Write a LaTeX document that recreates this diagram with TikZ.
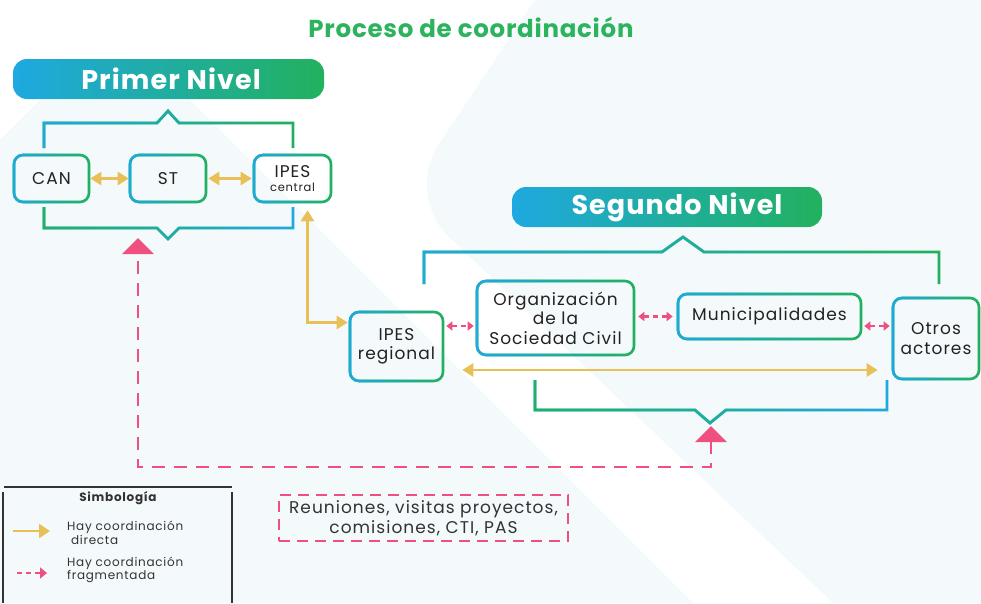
\documentclass[tikz,border=0pt]{standalone}
\usepackage{fontspec}
\setmainfont{Poppins}
\usetikzlibrary{arrows.meta,fadings,calc}
\definecolor{cblue}{HTML}{1EA9E1}
\definecolor{cgreen}{HTML}{22B15E}
\definecolor{ctitle}{HTML}{2CB35E}
\definecolor{cyel}{HTML}{E9BF57}
\definecolor{cpink}{HTML}{F0507F}
\definecolor{ctint}{HTML}{F4FAFB}
\definecolor{ctxt}{HTML}{222222}
\definecolor{cleg}{HTML}{333333}
\newcommand\wide{\addfontfeatures{LetterSpace=6}}
\newcommand\wideb{\addfontfeatures{LetterSpace=4}}
\begin{document}
\begin{tikzpicture}[x=1pt,y=-1pt,
  gbox/.style={rounded corners=9pt, line width=2.6pt, draw=cgreen,
    postaction={draw=cblue, path fading=east}, align=center, inner sep=0pt,
    text=ctxt, font=\fontsize{17}{19.5}\selectfont\wide},
  gline/.style={line width=2.8pt, draw=#1, line join=miter},
  gfade/.style={line width=2.8pt, draw=#1, path fading=east, line join=miter},
  bar/.style={left color=cblue, right color=cgreen, rounded corners=14pt,
    minimum width=311pt, minimum height=40pt, inner sep=0pt},
  bartext/.style={text=white, font=\fontsize{27}{30}\selectfont\bfseries\wideb},
  yarrow/.style={draw=cyel, line width=2.8pt, {Triangle[length=11pt,width=13pt]}-{Triangle[length=11pt,width=13pt]}},
  parrow/.style={draw=cpink, line width=2.6pt, dash pattern=on 5pt off 4pt,
    {Triangle[length=6pt,width=9pt]}-{Triangle[length=6pt,width=9pt]}},
  legtext/.style={text=cleg, align=left, anchor=west, inner sep=0pt,
    font=\fontsize{12}{13.5}\selectfont\wide}
]
\useasboundingbox (0,0) rectangle (981,603);
\fill[white] (0,0) rectangle (981,603);
% faint background bands
\fill[ctint] (0,140) -- (40,100) -- (190,100) -- (693,603) -- (0,603) -- cycle;
\fill[ctint] (535,0) [rounded corners=60pt] -- (405,195) [sharp corners] -- (833,603) -- (981,603) -- (981,0) -- cycle;

% title
\node[text=ctitle, font=\fontsize{24.5}{27}\selectfont\bfseries\addfontfeatures{LetterSpace=3}] (title) at (471,27) {Proceso de coordinación};

% bars
\node[bar] (bar1) at (168.5,79) {};
\node[bartext] (bar1t) at (171,79) {Primer Nivel};
\node[bar, minimum width=310pt] (bar2) at (667,207) {};
\node[bartext] (bar2t) at (677,207) {Segundo Nivel};

% brackets
\draw[gline=cgreen] (44,148) -- (44,123) -- (157,123) -- (168,111) -- (179,123) -- (293,123) -- (293,148);
\draw[gfade=cblue] (44,148) -- (44,123) -- (157,123) -- (168,111) -- (179,123) -- (293,123) -- (293,148);
\draw[gline=cblue] (44,207) -- (44,228) -- (157,228) -- (168,239) -- (179,228) -- (293,228) -- (293,207);
\draw[gfade=cgreen] (44,207) -- (44,228) -- (157,228) -- (168,239) -- (179,228) -- (293,228) -- (293,207);
\draw[gline=cgreen] (424,284) -- (424,252) -- (662,252) -- (683,237) -- (704,252) -- (939,252) -- (939,284);
\draw[gfade=cblue] (424,284) -- (424,252) -- (662,252) -- (683,237) -- (704,252) -- (939,252) -- (939,284);
\draw[gline=cblue] (535,380) -- (535,410) -- (695,410) -- (710,423) -- (726,410) -- (887,410) -- (887,380);
\draw[gfade=cgreen] (535,380) -- (535,410) -- (695,410) -- (710,423) -- (726,410) -- (887,410) -- (887,380);

% level 1 boxes
\node[gbox, minimum width=75pt, minimum height=47pt] (can) at (51.5,178.5) {CAN};
\node[gbox, minimum width=76pt, minimum height=47pt] (st) at (168,178.5) {ST};
\node[gbox, minimum width=77pt, minimum height=47pt] (ipesc) at (292.5,178.5)
  {IPES\\[-6pt]{\fontsize{11.5}{13}\selectfont central}};

% level 2 boxes
\node[gbox, minimum width=93pt, minimum height=69pt] (ipesr) at (396.5,346.5) {IPES\\regional};
\node[gbox, minimum width=157pt, minimum height=74pt] (org) at (555.5,318) {Organización\\de la\\Sociedad Civil};
\node[gbox, minimum width=183pt, minimum height=45pt] (mun) at (769.5,316.5) {Municipalidades};
\node[gbox, minimum width=86pt, minimum height=81pt] (otros) at (936,338.5) {Otros\\actores};

% yellow arrows
\draw[yarrow] (can.east) -- (st.west);
\draw[yarrow, shorten <=1pt, shorten >=1pt] (st.east) -- (ipesc.west);
\draw[yarrow] ([xshift=15pt,yshift=-7pt]ipesc.south) |- ([xshift=-1pt,yshift=24pt]ipesr.west);
\draw[yarrow] ([xshift=18pt,yshift=-23.5pt]ipesr.east) -- ([xshift=-14pt,yshift=-23.5pt]ipesr.east -| otros.west);

% pink dashed double arrows
\draw[parrow] ([xshift=2pt,yshift=20.5pt]ipesr.east) -- ([xshift=-2pt,yshift=20.5pt]ipesr.east -| org.west);
\draw[parrow] ([xshift=3pt]org.east |- mun.west) -- ([xshift=-4pt]mun.west);
\draw[parrow] ([xshift=2pt,yshift=-9.5pt]mun.east) -- ([xshift=-2pt,yshift=-9.5pt]mun.east -| otros.west);

% pink connector between levels
\coordinate (tip2) at (711,426);
\coordinate (tip1) at (138,238);
\draw[draw=cpink, line width=2.8pt, dash pattern=on 13pt off 9pt,
  {Triangle[length=16pt,width=31pt]}-{Triangle[length=16pt,width=31pt]}]
  (tip2) -- (711,467) -- (138,467) -- (tip1);

% legend
\draw[cleg, line width=1.4pt] (4,487) -- (232,487);
\draw[cleg, line width=1.4pt] (3,492) -- (3,603);
\draw[cleg, line width=1.4pt] (232,492) -- (232,603);
\node[text=cleg, font=\fontsize{12}{13}\selectfont\bfseries\wide] (simb) at (118,498) {Simbología};
\coordinate (ly1) at (13,531);
\coordinate (ly2) at (50,531);
\draw[draw=cyel, line width=2.8pt, -{Triangle[length=11pt,width=14pt]}] (ly1) -- (ly2);
\node[legtext] (l1) at (67,533) {Hay coordinación\\\ directa};
\coordinate (lp1) at (17,573);
\coordinate (lp2) at (47,573);
\draw[draw=cpink, line width=2.6pt, dash pattern=on 5pt off 4pt, -{Triangle[length=7pt,width=11pt]}] (lp1) -- (lp2);
\node[legtext] (l2) at (67,570) {Hay coordinación\\fragmentada};

% note box
\node[draw=cpink, line width=2.4pt, dash pattern=on 11pt off 7pt, minimum width=289pt,
  minimum height=46pt, inner sep=0pt, align=center, text=cleg,
  font=\fontsize{17}{19.5}\selectfont\wide] (note) at (423.5,518)
  {Reuniones, visitas proyectos,\\comisiones, CTI, PAS};
\end{tikzpicture}
\end{document}
